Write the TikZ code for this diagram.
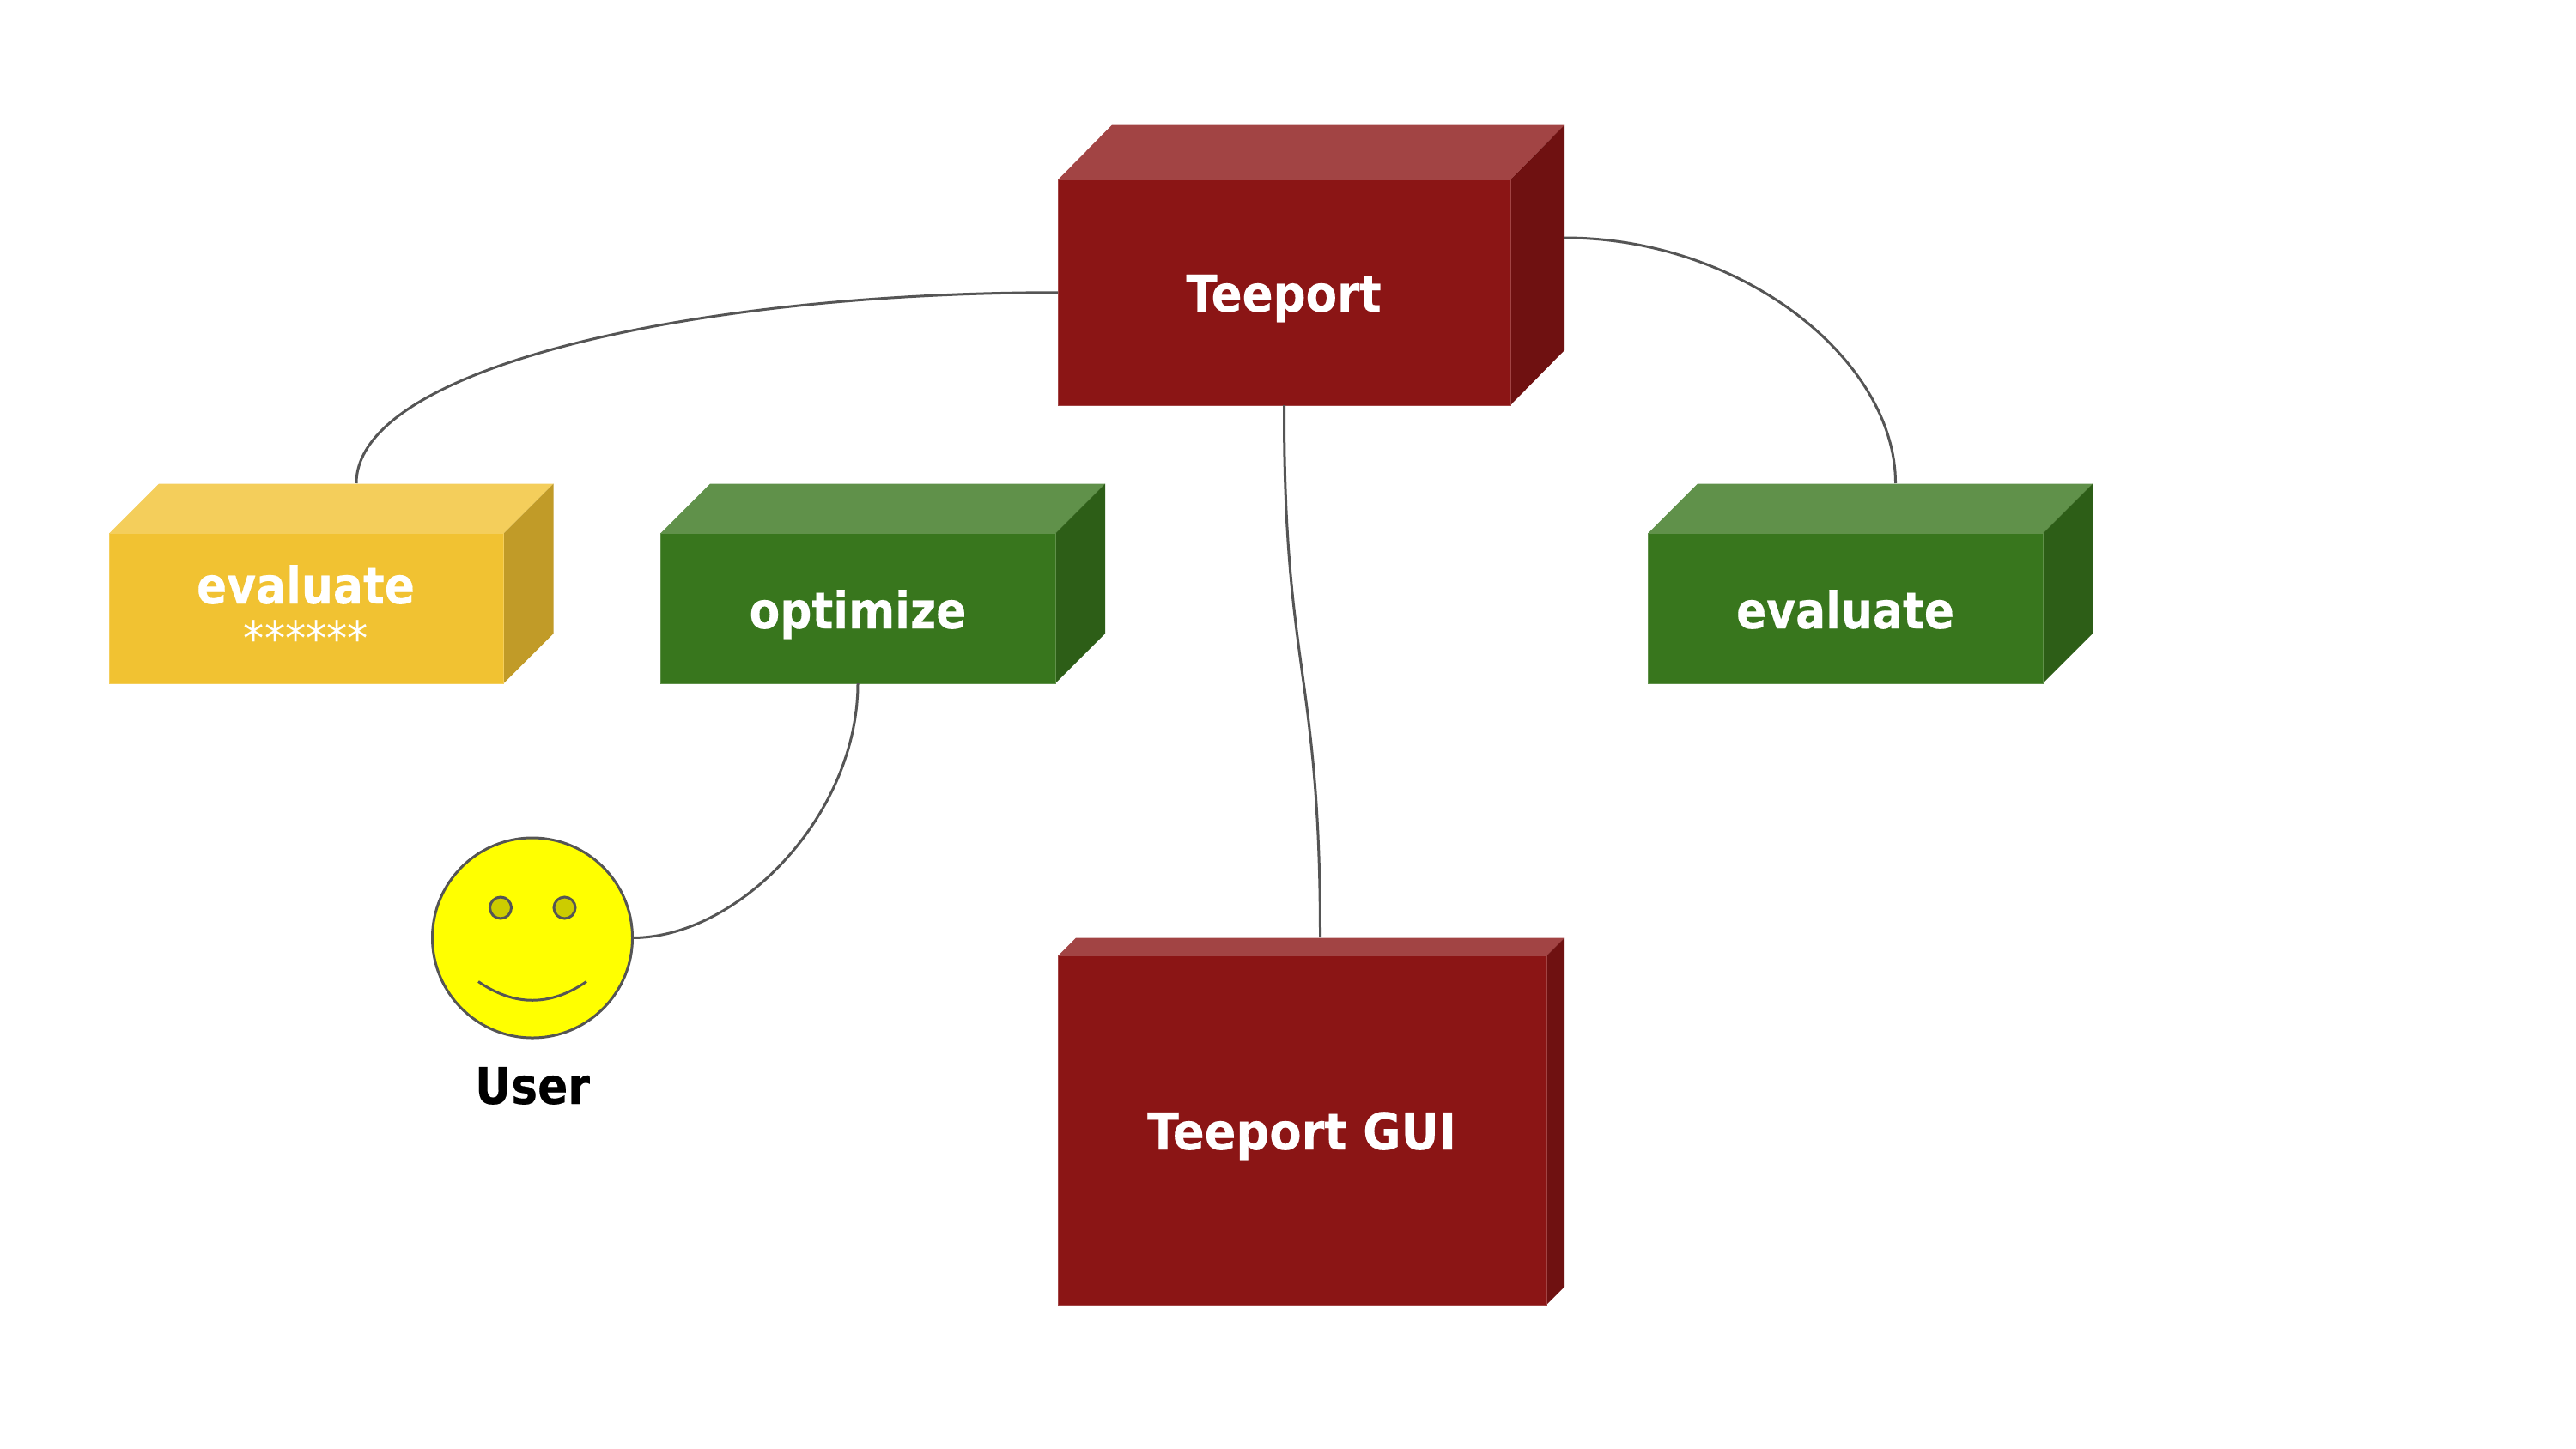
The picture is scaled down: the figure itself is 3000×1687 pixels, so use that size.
\documentclass[tikz,border=0pt]{standalone}
\usepackage{fontspec}
\newfontfamily\labfont[FakeStretch=0.88,FakeBold=0.25]{DejaVu Sans Bold}
\newfontfamily\teefont[FakeStretch=0.90,FakeBold=0.25]{DejaVu Sans Bold}
\newfontfamily\guifont[FakeStretch=0.92,FakeBold=0.25]{DejaVu Sans Bold}
\newfontfamily\starfont[FakeStretch=0.88]{DejaVu Sans}
\definecolor{boxred}{HTML}{8B1515}
\definecolor{boxgold}{HTML}{F1C232}
\definecolor{boxgreen}{HTML}{38761D}
\definecolor{wire}{HTML}{555555}
\definecolor{smileface}{HTML}{FFFF00}
\definecolor{smileeye}{HTML}{CCCC00}
\tikzset{
  conn/.style={draw=wire,line width=3pt},
  lab/.style={anchor=base,inner sep=0pt,font=\labfont\fontsize{59}{59}\selectfont,text=white},
  stars/.style={anchor=base,inner sep=0pt,font=\starfont\fontsize{55}{55}\selectfont,text=white},
  face/.style={inner sep=0pt,outer sep=0pt},
  smile/.style={draw=wire,line width=3pt}
}
% name, x1, y1, x2, y2, depth x, depth y, colour
\newcommand{\cubebox}[8]{%
  \fill[#8!80!white] (#2,#3) -- ++(#6,-#7) -- ({#4+#6},{#3-#7}) -- (#4,#3) -- cycle;
  \fill[#8!80!black] (#4,#3) -- ++(#6,-#7) -- ({#4+#6},{#5-#7}) -- (#4,#5) -- cycle;
  \node[face,fill=#8,draw=#8!80!white,line width=1pt,minimum width={(#4-#2)*1pt},minimum height={(#5-#3)*1pt}] (#1) at ({(#2+#4)/2},{(#3+#5)/2}) {};
}
\begin{document}
\begin{tikzpicture}[x=1pt,y=-1pt]
\useasboundingbox (0,0) rectangle (3000,1687);
\fill[white] (0,0) rectangle (3000,1687);

\cubebox{teeport}{1232}{209.5}{1759}{472}{63}{64}{boxred}
\cubebox{gui}{1232}{1113.5}{1801}{1520}{21}{21}{boxred}
\cubebox{evalgold}{127}{621.5}{586.5}{796}{58}{58}{boxgold}
\cubebox{optimize}{769}{621.5}{1229}{796}{58}{58}{boxgreen}
\cubebox{evalgreen}{1919}{621.5}{2379}{796}{58}{58}{boxgreen}

\node[lab,font=\teefont\fontsize{59}{59}\selectfont] (teeportlab) at (1495,363) {Teeport};
\node[lab,font=\guifont\fontsize{59}{59}\selectfont] (guilab) at (1516,1339) {Teeport GUI};
\node[lab] (evalgoldlab) at (356,703) {evaluate};
\node[stars] (starlab) at (356.5,763) {******};
\node[lab] (optlab) at (999,732) {optimize};
\node[lab] (evalgreenlab) at (2149,732) {evaluate};

\node[circle,draw=wire,line width=3pt,fill=smileface,minimum size=233pt,inner sep=0pt,outer sep=0pt] (user) at (620,1092.5) {};
\node[circle,draw=wire,line width=3pt,fill=smileeye,minimum size=25pt,inner sep=0pt] (eyeL) at (583,1057.5) {};
\node[circle,draw=wire,line width=3pt,fill=smileeye,minimum size=25pt,inner sep=0pt] (eyeR) at (657.5,1057.5) {};
\coordinate (smileL) at (557,1143.5);
\coordinate (smileR) at (683,1143.5);
\draw[smile] (smileL) .. controls (599,1172.5) and (641,1172.5) .. (smileR);
\node[lab,text=black] (userlab) at (620,1286) {User};

\coordinate (yellowtop) at (415,563);
\coordinate (teeportside) at (1822,277);
\coordinate (greentop) at (2207.5,563);
\coordinate (guitop) at (1537.5,1092);
\draw[conn] (teeport.west) .. controls (800,341) and (415,430) .. (yellowtop);
\draw[conn] (teeportside) .. controls (2030,277) and (2207.5,420) .. (greentop);
\draw[conn] (teeport.south) .. controls (1495,782) and (1537.5,782) .. (guitop);
\draw[conn] (optimize.south) .. controls (999,950) and (860,1092.5) .. (user.east);
\end{tikzpicture}
\end{document}
